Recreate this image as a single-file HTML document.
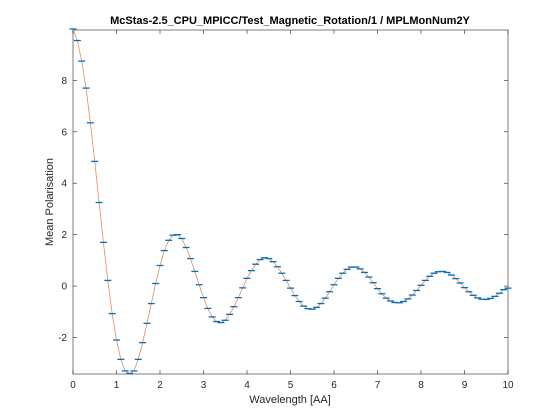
<!DOCTYPE html>
<html><head><meta charset="utf-8"><style>
body{margin:0;background:#fff;}
svg{display:block;font-family:"Liberation Sans",sans-serif;}
</style></head><body>
<svg id="chart" width="560" height="420">
<rect width="560" height="420" fill="#fff"/>
<g id="axes"></g>
<g id="series"></g>
<text x="290" y="24" text-anchor="middle" font-size="11" font-weight="bold" fill="#000">McStas-2.5_CPU_MPICC/Test_Magnetic_Rotation/1 / MPLMonNum2Y</text>
<text x="290" y="403" text-anchor="middle" font-size="11" fill="#262626">Wavelength [AA]</text>
<text transform="translate(53,202) rotate(-90)" text-anchor="middle" font-size="11" fill="#262626">Mean Polarisation</text>
</svg>
<script>
const xTicks=[0,1,2,3,4,5,6,7,8,9,10];
const yTicks=[-2,0,2,4,6,8];
const values=[10.0,9.55,8.75,7.7,6.35,4.85,3.25,1.7,0.22,-1.07,
-2.1,-2.85,-3.3,-3.4,-3.3,-2.85,-2.2,-1.45,-0.68,0.1,
0.8,1.38,1.78,1.98,2.0,1.85,1.5,1.07,0.57,0.05,
-0.45,-0.87,-1.2,-1.38,-1.42,-1.33,-1.1,-0.8,-0.45,-0.07,
0.3,0.6,0.85,1.03,1.1,1.07,0.95,0.75,0.5,0.22,
-0.08,-0.37,-0.6,-0.78,-0.88,-0.9,-0.83,-0.68,-0.47,-0.22,
0.05,0.3,0.5,0.65,0.74,0.74,0.67,0.53,0.35,0.13,
-0.1,-0.3,-0.47,-0.58,-0.64,-0.65,-0.6,-0.5,-0.35,-0.17,
0.03,0.22,0.38,0.5,0.56,0.57,0.53,0.43,0.29,0.12,
-0.06,-0.22,-0.36,-0.46,-0.51,-0.52,-0.48,-0.4,-0.28,-0.14,-0.08];
const wavelengths=values.map((v,i)=>i*0.1);
const L=73,R=508,T=30,B=374,XMIN=0,XMAX=10,YMIN=-3.42,YMAX=9.96;
const sx=x=>L+(x-XMIN)/(XMAX-XMIN)*(R-L);
const sy=y=>B-(y-YMIN)/(YMAX-YMIN)*(B-T);
const NS="http://www.w3.org/2000/svg";
const ax=document.getElementById('axes'),se=document.getElementById('series');
function mk(tag,attrs,parent){const e=document.createElementNS(NS,tag);for(const k in attrs)e.setAttribute(k,attrs[k]);parent.appendChild(e);return e;}
const frame=mk('rect',{x:L,y:T,width:R-L,height:B-T,fill:'none',stroke:'#262626','stroke-width':0.6},ax);


xTicks.forEach(t=>{const x=sx(t);
 mk('line',{x1:x,x2:x,y1:B,y2:B-4,stroke:'#262626','stroke-width':0.6},ax);
 mk('line',{x1:x,x2:x,y1:T,y2:T+4,stroke:'#262626','stroke-width':0.6},ax);
 const tx=mk('text',{x:x,y:B+14,'text-anchor':'middle','font-size':10,fill:'#262626'},ax);tx.textContent=t;
 
 });
yTicks.forEach(t=>{const y=sy(t);
 mk('line',{x1:L,x2:L+4,y1:y,y2:y,stroke:'#262626','stroke-width':0.6},ax);
 mk('line',{x1:R,x2:R-4,y1:y,y2:y,stroke:'#262626','stroke-width':0.6},ax);
 const tx=mk('text',{x:L-6,y:y+3.5,'text-anchor':'end','font-size':10,fill:'#262626'},ax);tx.textContent=t;
 
 });
const line=mk('polyline',{points:values.map((v,i)=>sx(wavelengths[i])+','+sy(v)).join(' '),fill:'none',stroke:'#e8875a','stroke-width':0.8},se);


values.forEach((v,i)=>{const x=sx(wavelengths[i]),y=sy(v);
 const m=mk('line',{x1:x-3.5,x2:x+3.5,y1:y,y2:y,stroke:'#0072bd','stroke-width':1.3},se);
 
 });
</script>
</body></html>
